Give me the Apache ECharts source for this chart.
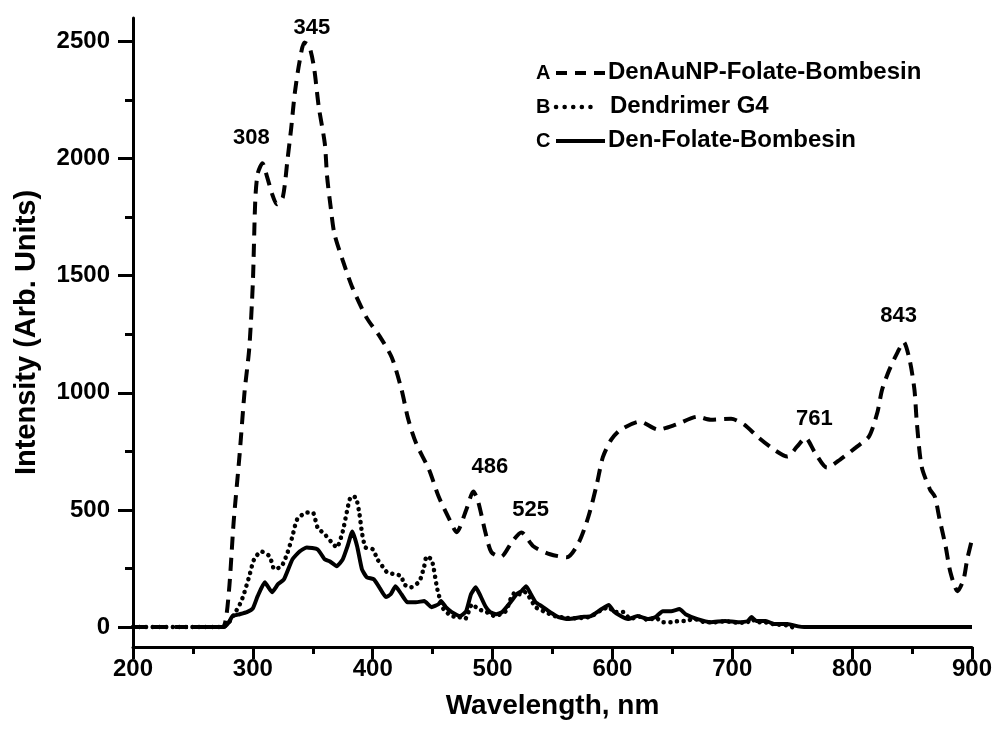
<!DOCTYPE html>
<html>
<head>
<meta charset="utf-8">
<script src="https://cdn.jsdelivr.net/npm/echarts@6/dist/echarts.min.js"></script>
<style>
html,body{margin:0;padding:0;background:#fff;}
#chart{width:995px;height:731px;}
</style>
</head>
<body>
<div id="chart"></div>
<script>
// ---- data ----
const seriesNames = ['DenAuNP-Folate-Bombesin', 'Dendrimer G4', 'Den-Folate-Bombesin'];
const legendLetters = ['A', 'B', 'C'];

const aWave = [200,240,270,276,280,284,289,293,297,300,302,304,308,312,316,320,325,329,332,335,339,343,347,351,355,360,362,365,368,375,383,395,406,416,424,429,433,437,447,455,464,470,478,484,488,494,499,507,516,524,534,548,562,572,580,587,592,599,607,623,638,653,671,682,699,710,721,735,746,754,761,769,779,790,803,814,821,825,831,838,843,848,852,854,858,865,869,873,878,882,888,893,896,900];
const aVal  = [0,0,0,5,150,450,740,1000,1190,1470,1820,1935,1980,1920,1850,1805,1835,2000,2130,2280,2415,2495,2480,2390,2220,2065,1920,1790,1680,1565,1450,1320,1240,1150,1015,900,830,775,672,557,460,405,500,579,535,405,320,300,362,404,345,311,298,362,472,610,725,800,843,877,843,864,898,885,889,864,813,757,728,770,808,745,681,715,766,813,915,1013,1098,1174,1217,1140,1013,872,685,587,557,460,345,234,153,204,289,374];

const bWave = [200,250,275,280,286,290,293,297,301,307,314,318,324,329,333,337,345,350,354,360,365,370,375,378,382,386,389,391,394,400,404,408,412,418,424,426,432,439,443,445,449,451,454,459,466,472,477,483,488,495,502,511,515,519,523,527,536,544,552,560,570,582,590,597,601,609,615,622,630,636,642,649,656,661,668,676,685,694,705,713,716,720,728,735,745,750];
const bVal  = [0,0,0,20,68,106,149,217,289,323,302,247,260,319,387,460,489,489,425,396,366,340,408,481,557,553,481,404,340,332,289,260,234,226,217,183,170,196,260,302,289,247,160,77,47,43,34,98,77,64,47,68,119,149,140,149,85,64,47,40,38,45,70,85,65,64,35,45,30,40,21,21,26,26,35,22,20,25,18,22,35,22,20,12,8,0];

const cWave = [250,276,280,283,289,295,300,304,310,316,321,326,333,339,345,354,360,364,370,375,379,383,387,391,395,401,405,411,415,419,424,429,436,443,449,455,457,461,466,473,478,482,486,490,494,498,503,508,515,520,524,528,532,536,541,548,555,563,574,582,591,597,601,607,613,621,630,636,642,649,656,661,671,682,694,705,713,716,720,728,735,746,755,760,900];
const cVal  = [0,0,20,47,55,64,80,132,191,149,183,204,289,323,340,332,289,281,260,289,345,408,345,247,213,204,174,128,140,174,140,106,106,111,85,98,111,85,64,47,68,140,170,132,89,64,55,64,106,140,153,174,140,106,89,64,43,34,43,47,77,94,68,47,34,47,34,43,68,68,77,55,34,21,26,21,26,43,26,26,13,13,3,0,0];

const peakWave = [308, 345, 486, 525, 761, 843];
const peakVal  = [1980, 2495, 579, 404, 808, 1217];

const xTicks = [200, 300, 400, 500, 600, 700, 800, 900];
const yMajorTicks = [0, 500, 1000, 1500, 2000, 2500];
const yMinorTicks = [250, 750, 1250, 1750, 2250];

// ---- build ----
function pairs(xs, ys) { return xs.map((x, i) => [x, ys[i]]); }
const peakLabelOffsets = [[-11, -14], [5, -3], [14, -13], [8, -11], [9, -7], [-5, -15]];
const FONT = 'Liberation Sans, Arial, sans-serif';

const chart = echarts.init(document.getElementById('chart'), null, {renderer: 'canvas'});
const axisLineStyle = {color: '#000', width: 3};
const lineStyles = [
  {color: '#000', width: 4, type: [13, 8], cap: 'butt'},
  {color: '#000', width: 4.5, type: [0.1, 6.5], cap: 'round'},
  {color: '#000', width: 4, type: 'solid'}
];

// legend drawn as graphic elements (letter, line sample, text)
const legendGraphics = [];
seriesNames.forEach((name, i) => {
  const cy = 73 + i * 34;
  legendGraphics.push({
    type: 'text', left: 536, top: cy - 10,
    style: {text: legendLetters[i], font: 'bold 20px ' + FONT, fill: '#000'}
  });
  legendGraphics.push({
    type: 'line', shape: {x1: 556, y1: cy, x2: i === 1 ? 597 : 605, y2: cy},
    style: {
      stroke: '#000', lineWidth: i === 1 ? 4.5 : 4,
      lineDash: i === 0 ? [11, 8] : (i === 1 ? [0.1, 8.5] : null),
      lineCap: i === 1 ? 'round' : 'butt'
    }
  });
  legendGraphics.push({
    type: 'text', left: i === 1 ? 610 : 608, top: cy - 13,
    style: {text: name, font: 'bold 24px ' + FONT, fill: '#000'}
  });
});

const option = {
  backgroundColor: '#fff',
  animation: false,
  grid: {left: 133, right: 20, top: 18, bottom: 84, containLabel: false},
  graphic: legendGraphics,
  xAxis: {
    type: 'value',
    min: xTicks[0],
    max: xTicks[xTicks.length - 1],
    interval: 100,
    name: 'Wavelength, nm',
    nameLocation: 'middle',
    nameGap: 45,
    nameTextStyle: {fontFamily: FONT, fontSize: 28, fontWeight: 'bold', color: '#000'},
    axisLine: {show: true, onZero: false, lineStyle: axisLineStyle},
    axisTick: {show: true, length: 12, lineStyle: axisLineStyle},
    minorTick: {show: true, splitNumber: 2, length: 7, lineStyle: axisLineStyle},
    axisLabel: {fontFamily: FONT, fontSize: 24, fontWeight: 'bold', color: '#000', margin: 10,
      formatter: v => String(v)},
    splitLine: {show: false},
    minorSplitLine: {show: false}
  },
  yAxis: [{
    type: 'value',
    min: -85,
    max: 2600,
    position: 'left',
    name: 'Intensity (Arb. Units)',
    nameLocation: 'middle',
    nameGap: 92,
    nameTextStyle: {fontFamily: FONT, fontSize: 29, fontWeight: 'bold', color: '#000'},
    axisLine: {show: true, onZero: false, lineStyle: axisLineStyle},
    axisTick: {show: true, length: 15, lineStyle: axisLineStyle, customValues: yMajorTicks},
    axisLabel: {fontFamily: FONT, fontSize: 24, fontWeight: 'bold', color: '#000', margin: 23,
      customValues: yMajorTicks, formatter: v => String(v)},
    splitLine: {show: false}
  }, {
    type: 'value',
    min: -85,
    max: 2600,
    position: 'left',
    offset: 0,
    axisLine: {show: false},
    axisTick: {show: true, length: 8, lineStyle: axisLineStyle, customValues: yMinorTicks},
    axisLabel: {show: false, customValues: yMinorTicks},
    splitLine: {show: false}
  }],
  series: [
    {
      name: seriesNames[0], type: 'line', data: pairs(aWave, aVal),
      symbol: 'none', smooth: 0.25, z: 3,
      lineStyle: lineStyles[0], itemStyle: {color: '#000'}
    },
    {
      name: seriesNames[1], type: 'line', data: pairs(bWave, bVal),
      symbol: 'none', smooth: 0.2, z: 4,
      lineStyle: lineStyles[1], itemStyle: {color: '#000'}
    },
    {
      name: seriesNames[2], type: 'line', data: pairs(cWave, cVal),
      symbol: 'none', smooth: 0.15, z: 5,
      lineStyle: lineStyles[2], itemStyle: {color: '#000'}
    },
    {
      name: 'peaks', type: 'scatter', data: pairs(peakWave, peakVal),
      symbolSize: 1, silent: true, z: 6,
      itemStyle: {color: '#000', opacity: 0},
      label: {
        show: true, position: 'top', distance: 0,
        fontFamily: FONT, fontSize: 22, fontWeight: 'bold', color: '#000', opacity: 1,
        textBorderWidth: 0,
        formatter: p => String(p.value[0])
      },
      labelLayout: p => ({dx: peakLabelOffsets[p.dataIndex][0], dy: peakLabelOffsets[p.dataIndex][1]})
    }
  ]
};
chart.setOption(option);
</script>
</body>
</html>
